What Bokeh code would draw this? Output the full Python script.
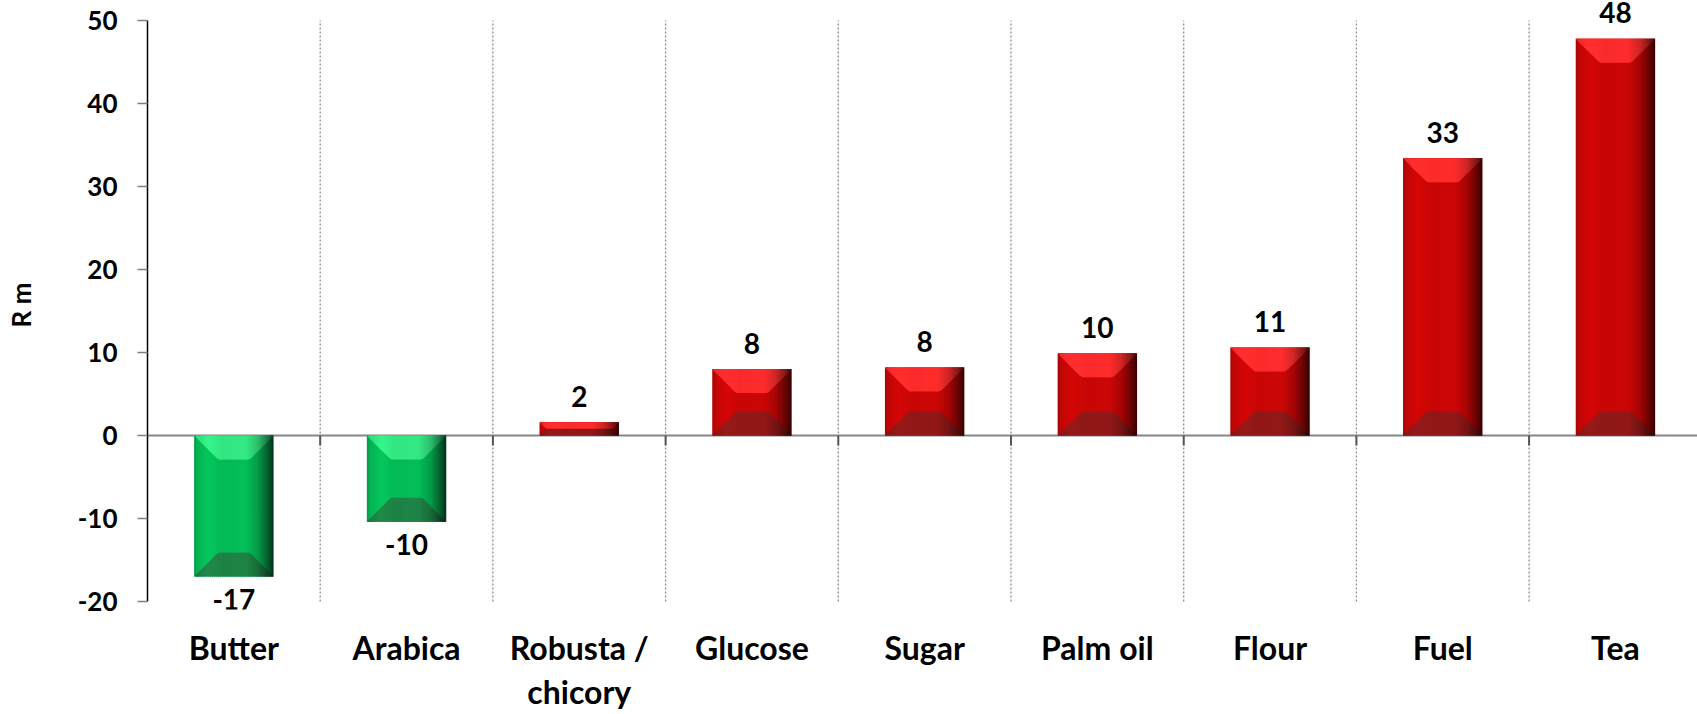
import numpy as np
from bokeh.plotting import figure
from bokeh.models import Range1d, FixedTicker, ColumnDataSource
from bokeh.core.properties import value
from bokeh.embed import file_html
from bokeh.resources import INLINE

# ---- data -------------------------------------------------------------
categories = ["Butter", "Arabica", "Robusta /\nchicory", "Glucose", "Sugar",
              "Palm oil", "Flour", "Fuel", "Tea"]
values = [-17.0, -10.4, 1.6, 8.0, 8.2, 9.9, 10.6, 33.4, 47.8]
y_ticks = [-20, -10, 0, 10, 20, 30, 40, 50]
y_label = "R m"

# ---- geometry ---------------------------------------------------------
W, H = 1697, 714
LEFT, TOP, BOTTOM = 147, 0, 104
Y_MIN, Y_MAX = -20, 50
PAD_TOP, PAD_BOTTOM = 20, 8           # pixels of frame beyond the axis bounds
CAT_PX = 172.7                        # pixels per category slot
frame_w = W - LEFT
frame_h = H - TOP - BOTTOM
ky = (frame_h - PAD_TOP - PAD_BOTTOM) / (Y_MAX - Y_MIN)   # pixels per unit
x_end = frame_w / CAT_PX
y_start = Y_MIN - PAD_BOTTOM / ky
y_end = Y_MAX + PAD_TOP / ky

FONT = "Lato"
BAR_W = 0.46
BEVEL_PX = 24
N_STRIPS = 40
OVERLAP = 1.0 / CAT_PX

p = figure(width=W, height=H, output_backend="svg", toolbar_location=None,
           x_range=Range1d(0, x_end), y_range=Range1d(y_start, y_end),
           min_border_left=LEFT, min_border_right=0, min_border_top=TOP,
           min_border_bottom=BOTTOM)
p.outline_line_color = None
p.xgrid.visible = False
p.ygrid.visible = False
p.background_fill_color = "white"
p.border_fill_color = "white"

# category separators and zero line
bounds = list(range(1, len(categories)))
p.segment(x0=bounds, y0=[Y_MIN] * len(bounds), x1=bounds, y1=[Y_MAX] * len(bounds),
          line_color="#8c8c8c", line_width=1.3, line_dash="2 2")
p.segment(x0=[0], y0=[0], x1=[x_end], y1=[0], line_color="#868686", line_width=2)
p.segment(x0=bounds, y0=[0] * len(bounds), x1=bounds, y1=[-10 / ky] * len(bounds),
          line_color="#555555", line_width=2)

# ---- bevelled bars ----------------------------------------------------
def shade(t):
    return np.interp(t, [0.0, 0.04, 0.18, 0.35, 0.65, 0.80, 0.92, 1.0],
                        [0.80, 0.94, 1.05, 0.98, 1.0, 0.82, 0.52, 0.25])

def hexcol(rgb, f):
    r, g, b = (int(max(0, min(255, round(c * f)))) for c in rgb)
    return "#%02x%02x%02x" % (r, g, b)

RED = dict(body=(204, 6, 6), top=(255, 44, 44), bot=(146, 24, 24))
GREEN = dict(body=(4, 190, 88), top=(52, 234, 132), bot=(30, 132, 70))

layers = {"body": ([], [], []), "top": ([], [], []), "bot": ([], [], [])}
for i, v in enumerate(values):
    pal = GREEN if v < 0 else RED
    cx = i + 0.5
    left, right = cx - BAR_W / 2, cx + BAR_W / 2
    hi, lo = max(0.0, v), min(0.0, v)
    d = min(BEVEL_PX, abs(v) * ky / 2)

    def g(x):
        return max(0.0, min(d, (x - left) * CAT_PX, (right - x) * CAT_PX)) / ky

    for j in range(N_STRIPS):
        xa = left + j * BAR_W / N_STRIPS
        xb = left + (j + 1) * BAR_W / N_STRIPS
        xb2 = min(right, xb + OVERLAP)
        f = shade((j + 0.5) / N_STRIPS)
        polys = {
            "body": [lo, lo, hi, hi],
            "top": [hi, hi, hi - g(xb2), hi - g(xa)],
            "bot": [lo, lo, lo + g(xb2), lo + g(xa)],
        }
        for key, yy in polys.items():
            lx, ly, lc = layers[key]
            lx.append([xa, xb2, xb2, xa])
            ly.append(yy)
            lc.append(hexcol(pal[key], f))

for key in ("body", "top", "bot"):
    lx, ly, lc = layers[key]
    p.patches(xs=lx, ys=ly, fill_color=lc, line_color=None)

# ---- value labels -----------------------------------------------------
pos = [(i + 0.5, v, "%d" % round(v)) for i, v in enumerate(values) if v >= 0]
neg = [(i + 0.5, v, "%d" % round(v)) for i, v in enumerate(values) if v < 0]
for rows, off in ((pos, -26), (neg, 23)):
    src = ColumnDataSource(dict(x=[r[0] for r in rows], y=[r[1] for r in rows],
                                t=[r[2] for r in rows]))
    p.text(x="x", y="y", text="t", source=src, text_align="center",
           text_baseline="alphabetic", y_offset=off, text_font=value(FONT),
           text_font_style="bold", text_font_size="28px", text_color="black")

# ---- axes -------------------------------------------------------------
ya = p.yaxis[0]
ya.ticker = FixedTicker(ticks=y_ticks)
ya.major_label_overrides = {t: str(t) for t in y_ticks}
ya.bounds = (Y_MIN, Y_MAX)
ya.axis_line_color = "black"
ya.axis_line_width = 1.5
ya.major_tick_out = 10
ya.major_tick_in = 0
ya.major_tick_line_color = "#7f7f7f"
ya.major_tick_line_width = 1.5
ya.minor_tick_line_color = None
ya.major_label_text_font = FONT
ya.major_label_text_font_style = "bold"
ya.major_label_text_font_size = "26px"
ya.major_label_text_color = "black"
ya.major_label_standoff = 20
ya.axis_label = y_label
ya.axis_label_text_font = FONT
ya.axis_label_text_font_style = "bold"
ya.axis_label_text_font_size = "26px"
ya.axis_label_text_color = "black"
ya.axis_label_standoff = 38

xa_ = p.xaxis[0]
xa_.ticker = FixedTicker(ticks=[i + 0.5 for i in range(len(categories))])
xa_.major_label_overrides = {i + 0.5: c for i, c in enumerate(categories)}
xa_.axis_line_color = None
xa_.major_tick_line_color = None
xa_.minor_tick_line_color = None
xa_.major_label_text_font = FONT
xa_.major_label_text_font_style = "bold"
xa_.major_label_text_font_size = "32px"
xa_.major_label_text_color = "black"
xa_.major_label_text_line_height = 1.15
xa_.major_label_standoff = 12

open("out.html", "w").write(file_html(p, INLINE))
